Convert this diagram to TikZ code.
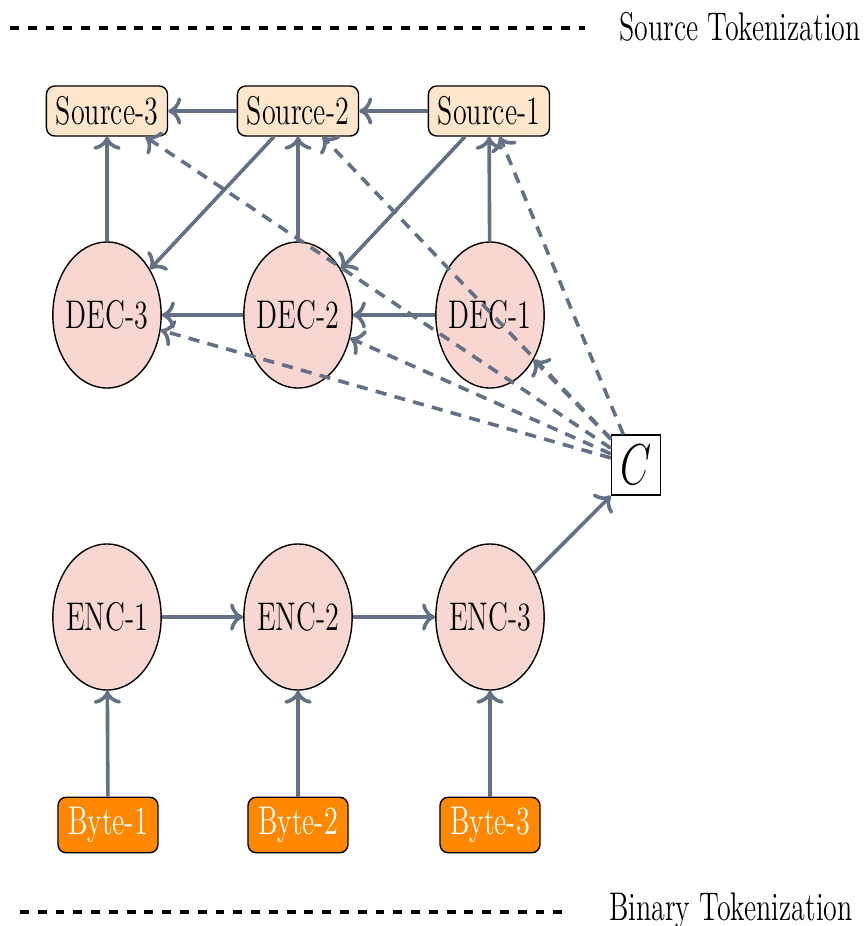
\documentclass[tikz,border=0pt]{standalone}
\usetikzlibrary{shapes.geometric,arrows.meta}
\usepackage{graphicx}

\definecolor{edgegray}{RGB}{100,113,133}
\definecolor{srcfill}{RGB}{254,230,205}
\definecolor{cellfill}{RGB}{248,214,210}
\definecolor{bytefill}{RGB}{255,136,0}

% narrow text, as set in the figure
\newcommand{\narrow}[1]{\scalebox{0.7}[1]{#1}}
% narrow text in a fixed-width box so the ellipse keeps its own size
\newcommand{\celltext}[1]{\makebox[24pt]{\narrow{#1}}}

\begin{document}
\begin{tikzpicture}[x=0.36pt,y=-0.36pt,
  every node/.style={font=\Large},
  srcbox/.style={draw, line width=0.5pt, rounded corners=3pt, fill=srcfill,
    minimum width=43.6pt, minimum height=18pt, inner sep=0pt},
  bytebox/.style={draw, line width=0.5pt, rounded corners=3pt, fill=bytefill,
    text=white, minimum width=36pt, minimum height=20pt, inner sep=0pt},
  cell/.style={ellipse, draw, line width=0.5pt, fill=cellfill,
    minimum width=39pt, minimum height=52.6pt, inner sep=0pt},
  ctx/.style={draw, line width=0.5pt, fill=white, font=\huge,
    minimum width=17.6pt, minimum height=21.6pt, inner sep=0pt},
  flow/.style={-{To[scale=1.05]}, draw=edgegray, line width=1.3pt},
  attn/.style={-{To[scale=1.05]}, draw=edgegray, line width=1.3pt, dash pattern=on 4pt off 3pt},
  divider/.style={draw=black, line width=1.5pt, dash pattern=on 3.2pt off 3.2pt}]

\useasboundingbox (0,0) rectangle (867,926);

% section dividers
\coordinate (topL) at (10,28);
\coordinate (topR) at (585,28);
\coordinate (botL) at (20,912);
\coordinate (botR) at (570,912);
\draw[divider] (topL) -- (topR);
\draw[divider] (botL) -- (botR);
\node (topLabel) at (740,27) {\narrow{Source Tokenization}};
\node (botLabel) at (731,911) {\narrow{Binary Tokenization}};

% source tokens
\node[srcbox] (s3) at (107,111) {\narrow{Source-3}};
\node[srcbox] (s2) at (298,111) {\narrow{Source-2}};
\node[srcbox] (s1) at (489,111) {\narrow{Source-1}};

% decoder cells
\node[cell] (d3) at (107,315) {\celltext{DEC-3}};
\node[cell] (d2) at (298,315) {\celltext{DEC-2}};
\node[cell] (d1) at (490,315) {\celltext{DEC-1}};

% context vector
\node[ctx] (c) at (636,465) {\narrow{$C$}};

% encoder cells
\node[cell] (e1) at (107,617) {\celltext{ENC-1}};
\node[cell] (e2) at (298,617) {\celltext{ENC-2}};
\node[cell] (e3) at (490,617) {\celltext{ENC-3}};

% byte tokens
\node[bytebox] (b1) at (108,825) {\narrow{Byte-1}};
\node[bytebox] (b2) at (298,825) {\narrow{Byte-2}};
\node[bytebox] (b3) at (490,825) {\narrow{Byte-3}};

% encoder chain
\draw[flow] (b1) -- (e1);
\draw[flow] (b2) -- (e2);
\draw[flow] (b3) -- (e3);
\draw[flow] (e1) -- (e2);
\draw[flow] (e2) -- (e3);
\draw[flow] (e3) -- (c.south west);

% decoder chain
\draw[flow] (s1) -- (s2);
\draw[flow] (s2) -- (s3);
\draw[flow] (d1) -- (s1);
\draw[flow] (d2) -- (s2);
\draw[flow] (d3) -- (s3);
\draw[flow] (s1) -- (d2);
\draw[flow] (s2) -- (d3);
\draw[flow] (d1) -- (d2);
\draw[flow] (d2) -- (d3);

% context fed to every decoder step
\draw[attn] (c) -- (s1);
\draw[attn] (c) -- (s2);
\draw[attn] (c) -- (s3);
\draw[attn] (c) -- (d1);
\draw[attn] (c) -- (d2);
\draw[attn] (c) -- (d3);
\end{tikzpicture}
\end{document}
